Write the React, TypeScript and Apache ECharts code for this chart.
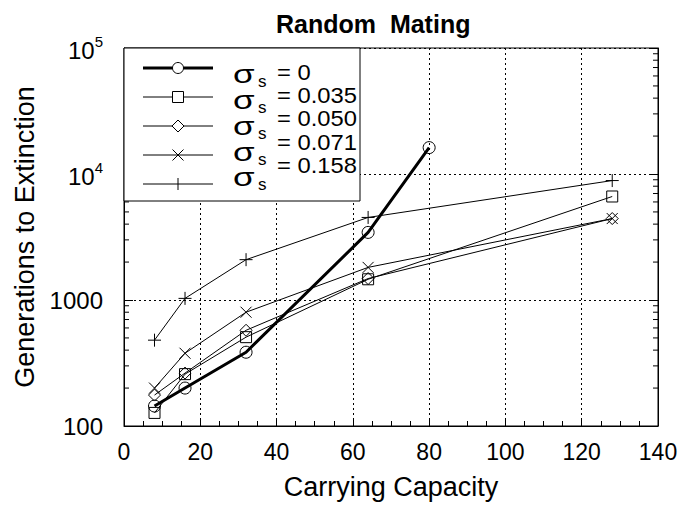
import React, { useEffect, useRef } from 'react';
import * as echarts from 'echarts';

// Carrying capacity (x) for each series
const capacityS0 = [8, 16, 32, 64, 80];
const capacity = [8, 16, 32, 64, 128];
// Generations to extinction (y)
const genS0 = [144, 200, 385, 3440, 16200];
const genS035 = [127, 258, 507, 1460, 6630];
const genS050 = [176, 263, 575, 1480, 4430];
const genS071 = [200, 378, 800, 1815, 4430];
const genS158 = [480, 1030, 2090, 4520, 8870];
const sigmaLabels = ['0', '0.035', '0.050', '0.071', '0.158'];
const yMinorTicks = [200, 300, 400, 500, 600, 700, 800, 900, 2000, 3000, 4000, 5000, 6000, 7000, 8000, 9000, 20000, 30000, 40000, 50000, 60000, 70000, 80000, 90000];

const FONT = '"Liberation Sans", Arial, Helvetica, sans-serif';
const SYM_CROSS = 'path://M0,0L12,12M12,0L0,12';
const SYM_PLUS = 'path://M6,0L6,12M0,6L12,6';
const symbols = ['circle', 'rect', 'diamond', SYM_CROSS, SYM_PLUS];
const symbolSizes = [12, 11, 12, 11, 13];

export default function App() {
  const ref = useRef<HTMLDivElement>(null);
  useEffect(() => {
    if (!ref.current) return;
    const chart = echarts.init(ref.current, null, { renderer: 'svg' });
    const pair = (xs: number[], ys: number[]) => xs.map((x, i) => [x, ys[i]]);
    const seriesData = [
      pair(capacityS0, genS0),
      pair(capacity, genS035),
      pair(capacity, genS050),
      pair(capacity, genS071),
      pair(capacity, genS158),
    ];
    const lineSeries = seriesData.map((d, i) => ({
      type: 'line',
      name: sigmaLabels[i],
      data: d,
      symbol: symbols[i],
      symbolSize: symbolSizes[i],
      showAllSymbol: true,
      lineStyle: { color: '#000', width: i === 0 ? 3 : 1 },
      itemStyle: { color: 'rgba(0,0,0,0)', borderColor: '#000', borderWidth: 1 },
      emphasis: { disabled: true },
      z: 5,
    }));

    // legend drawn as graphic
    const legX1 = 143, legX2 = 213, legMx = 178;
    const rowY = [68, 97, 126, 155, 184];
    const sigY = [74, 100, 126, 152, 177];
    const eqY = [72, 95, 118, 142, 165];
    const legendEls: any[] = [
      { type: 'rect', shape: { x: 124, y: 48, width: 236, height: 153 }, style: { fill: '#fff', stroke: '#000', lineWidth: 1 }, z: 100 },
    ];
    rowY.forEach((y, i) => {
      legendEls.push({ type: 'line', shape: { x1: legX1, y1: y, x2: legX2, y2: y }, style: { stroke: '#000', lineWidth: i === 0 ? 3 : 1 }, z: 101 });
      const st = { fill: 'none', stroke: '#000', lineWidth: 1 };
      if (i === 0) legendEls.push({ type: 'circle', shape: { cx: legMx, cy: y, r: 5.5 }, style: { ...st, fill: '#fff' }, z: 102 });
      if (i === 1) legendEls.push({ type: 'rect', shape: { x: legMx - 5.5, y: y - 5.5, width: 11, height: 11 }, style: { ...st, fill: '#fff' }, z: 102 });
      if (i === 2) legendEls.push({ type: 'polygon', shape: { points: [[legMx, y - 6], [legMx + 6, y], [legMx, y + 6], [legMx - 6, y]] }, style: { ...st, fill: '#fff' }, z: 102 });
      if (i === 3) {
        legendEls.push({ type: 'line', shape: { x1: legMx - 5.5, y1: y - 5.5, x2: legMx + 5.5, y2: y + 5.5 }, style: st, z: 102 });
        legendEls.push({ type: 'line', shape: { x1: legMx - 5.5, y1: y + 5.5, x2: legMx + 5.5, y2: y - 5.5 }, style: st, z: 102 });
      }
      if (i === 4) legendEls.push({ type: 'line', shape: { x1: legMx, y1: y - 6, x2: legMx, y2: y + 6 }, style: st, z: 102 });
      legendEls.push({ type: 'text', x: 233, y: sigY[i], scaleX: 1.4, z: 102,
        style: { text: 'σ', fontSize: 25, fontFamily: FONT, fill: '#000', verticalAlign: 'middle', align: 'left' } });
      legendEls.push({ type: 'text', x: 258, y: sigY[i] + 7, z: 102,
        style: { text: 's', fontSize: 17, fontFamily: FONT, fill: '#000', verticalAlign: 'middle', align: 'left' } });
      legendEls.push({ type: 'text', x: 277, y: eqY[i], scaleX: 1.08, z: 102,
        style: { text: '= ' + sigmaLabels[i], fontSize: 22, fontFamily: FONT, fill: '#000', verticalAlign: 'middle', align: 'left' } });
    });

    const option: any = {
      animation: false,
      backgroundColor: '#fff',
      textStyle: { fontFamily: FONT, color: '#000' },
      title: {
        text: 'Random  Mating',
        left: 271,
        top: 6,
        textStyle: { fontSize: 25, fontWeight: 'bold', fontFamily: FONT, color: '#000' },
      },
      grid: { left: 124, top: 48, right: 23, bottom: 78, show: true, borderColor: '#000', borderWidth: 1, backgroundColor: 'transparent' },
      xAxis: [{
        type: 'value',
        min: 0,
        max: 140,
        interval: 20,
        name: 'Carrying Capacity',
        nameLocation: 'middle',
        nameGap: 47,
        nameTextStyle: { fontSize: 27, fontFamily: FONT, color: '#000' },
        axisLine: { show: true, lineStyle: { color: '#000', width: 1 } },
        axisTick: { show: true, inside: true, length: 8, lineStyle: { color: '#000' } },
        minorTick: { show: true, splitNumber: 4, length: 5, lineStyle: { color: '#000' } },
        axisLabel: { fontSize: 23, fontFamily: FONT, color: '#000', margin: 14 },
        splitLine: { show: true, lineStyle: { color: '#000', type: [2, 3], width: 1 } },
      }],
      yAxis: [{
        type: 'log',
        logBase: 10,
        min: 100,
        max: 100000,
        name: 'Generations to Extinction',
        nameLocation: 'middle',
        nameGap: 81,
        nameTextStyle: { fontSize: 27, fontFamily: FONT, color: '#000' },
        axisLine: { show: true, lineStyle: { color: '#000', width: 1 } },
        axisTick: { show: true, inside: true, length: 9, lineStyle: { color: '#000' } },
        axisLabel: {
          fontSize: 24,
          fontFamily: FONT,
          color: '#000',
          margin: 21,
          formatter: (v: number) => {
            if (v >= 10000) return '{b|10}{s|' + Math.round(Math.log10(v)) + '}';
            return String(Math.round(v));
          },
          rich: {
            b: { fontSize: 24, fontFamily: FONT, color: '#000', lineHeight: 28, verticalAlign: 'bottom' },
            s: { fontSize: 15, fontFamily: FONT, color: '#000', lineHeight: 28, verticalAlign: 'top', padding: [0, 0, 12, 0] },
          },
        },
        splitLine: { show: true, lineStyle: { color: '#000', type: [2, 3], width: 1 } },
      }, {
        type: 'log',
        logBase: 10,
        min: 100,
        max: 100000,
        position: 'right',
        axisLine: { show: true, lineStyle: { color: '#000', width: 1 } },
        axisTick: { show: true, inside: true, length: 9, lineStyle: { color: '#000' } },
        axisLabel: { show: false },
        splitLine: { show: false },
      }],
      series: [
        ...lineSeries,
        {
          type: 'custom',
          silent: true,
          clip: false,
          xAxisIndex: 0,
          yAxisIndex: 0,
          data: yMinorTicks.map((v) => [0, v]),
          renderItem: (params: any, api: any) => {
            const p = api.coord([0, api.value(1)]);
            const cs = params.coordSys;
            return {
              type: 'group',
              children: [
                { type: 'line', shape: { x1: cs.x, y1: p[1], x2: cs.x + 5, y2: p[1] }, style: { stroke: '#000', lineWidth: 1 } },
                { type: 'line', shape: { x1: cs.x + cs.width - 5, y1: p[1], x2: cs.x + cs.width, y2: p[1] }, style: { stroke: '#000', lineWidth: 1 } },
              ],
            };
          },
          z: 3,
        },
      ],
      graphic: legendEls,
    };
    chart.setOption(option);
    return () => chart.dispose();
  }, []);
  return <div ref={ref} style={{ width: 681, height: 505, position: 'absolute', left: 0, top: 0 }} />;
}
